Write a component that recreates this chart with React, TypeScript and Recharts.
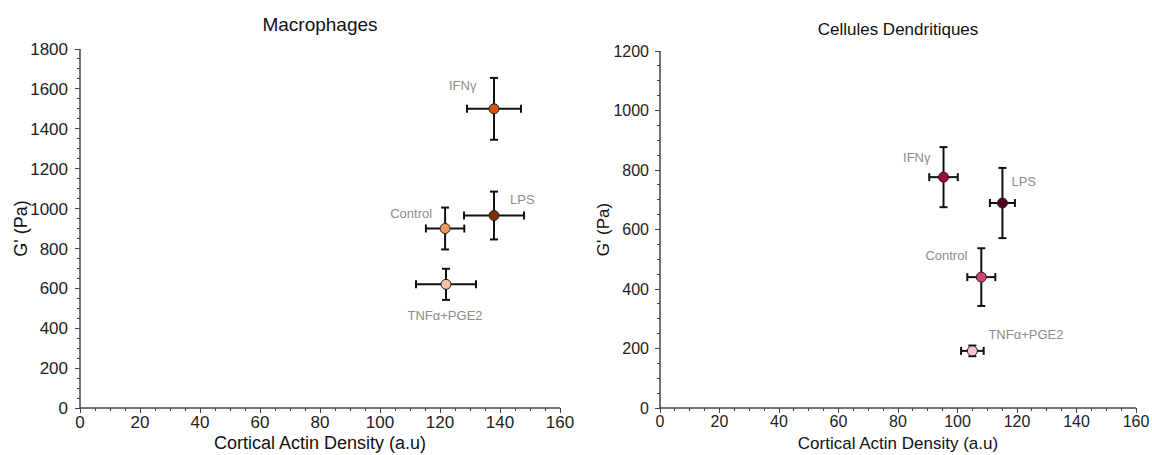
import { ScatterChart, Scatter, XAxis, YAxis } from 'recharts';

const groups = ['Control', 'IFNγ', 'LPS', 'TNFα+PGE2'];

// Macrophages
const macroActin = [121.7, 138, 138, 122];
const macroActinErr = [6.4, 9, 10, 10];
const macroG = [900, 1500, 965, 620];
const macroGErr = [105, 155, 120, 78];
const macroColors = ['#f6985a', '#d2530c', '#7b2f07', '#eec4a8'];

// Cellules dendritiques
const dcActin = [108, 95.3, 115.1, 105];
const dcActinErr = [4.7, 4.8, 4.2, 3.8];
const dcG = [440, 776, 689, 192];
const dcGErr = [97, 101, 118, 18];
const dcColors = ['#d34470', '#a0073f', '#4d0322', '#f9c4cc'];

// major tick every 20 (x) / 200 (y), minor ticks in between
const xMajorStep = 20;
const xMinorStep = 5;
const yMajorStep = 200;
const yMinorStep = 50;
const stepTicks = (max: number, step: number) =>
  Array.from({ length: Math.round(max / step) + 1 }, (_, i) => i * step);

// where each point's name sits relative to its marker
const macroLabelPos = [
  { dx: -13, dy: -11, anchor: 'end' },
  { dx: -45, dy: -19, anchor: 'start' },
  { dx: 16, dy: -12, anchor: 'start' },
  { dx: -1, dy: 36, anchor: 'middle' },
];
const dcLabelPos = [
  { dx: -14, dy: -17, anchor: 'end' },
  { dx: -13, dy: -15, anchor: 'end' },
  { dx: 9, dy: -17, anchor: 'start' },
  { dx: 16, dy: -12, anchor: 'start' },
];

const FONT = '"Liberation Sans", Arial, sans-serif';
const AXIS = '#444';
const CAP = 4;

function XTick(props: any) {
  const { x, y, payload, fontSize } = props;
  const major = payload.value % xMajorStep === 0;
  const len = major ? 5 : 3;
  return (
    <g>
      <line x1={x} x2={x} y1={y} y2={y + len} stroke={AXIS} strokeWidth={1} shapeRendering="crispEdges" />
      {major && (
        <text x={x} y={y + 7} dy="0.75em" textAnchor="middle" fill="#222" fontSize={fontSize} fontFamily={FONT}>
          {payload.value}
        </text>
      )}
    </g>
  );
}

function YTick(props: any) {
  const { x, y, payload, fontSize, margin } = props;
  const major = payload.value % yMajorStep === 0;
  const len = major ? 5 : 3;
  return (
    <g>
      <line x1={x - len} x2={x} y1={y} y2={y} stroke={AXIS} strokeWidth={1} shapeRendering="crispEdges" />
      {major && (
        <text x={x - 5 - margin} y={y} dy="0.36em" textAnchor="end" fill="#222" fontSize={fontSize} fontFamily={FONT}>
          {payload.value}
        </text>
      )}
    </g>
  );
}

// caps at the ends of error bars
const hCap = (s: any) => (
  <line x1={s.cx} x2={s.cx} y1={s.cy - CAP} y2={s.cy + CAP} stroke="#111" strokeWidth={2} />
);
const vCap = (s: any) => (
  <line x1={s.cx - CAP} x2={s.cx + CAP} y1={s.cy} y2={s.cy} stroke="#111" strokeWidth={2} />
);

type PanelProps = {
  title: string;
  titleSize: number;
  titleTop: number;
  actin: number[];
  actinErr: number[];
  g: number[];
  gErr: number[];
  colors: string[];
  labelPos: { dx: number; dy: number; anchor: string }[];
  yMax: number;
  yAxisWidth: number;
  top: number;
  tickSize: number;
  labelSize: number;
  yLabelOffset: number;
  tickMarginY: number;
};

function Panel(p: PanelProps) {
  const points = groups.map((name, i) => ({ name, x: p.actin[i], y: p.g[i] }));
  return (
    <div style={{ position: 'relative', width: 576, height: 455 }}>
      <div
        style={{
          position: 'absolute',
          top: p.titleTop,
          left: p.yAxisWidth,
          width: 560 - p.yAxisWidth,
          textAlign: 'center',
          fontFamily: FONT,
          fontSize: p.titleSize,
          lineHeight: 1,
          color: '#111',
        }}
      >
        {p.title}
      </div>
      <ScatterChart width={576} height={455} margin={{ top: p.top, right: 16, bottom: 0, left: 0 }}>
        <XAxis
          type="number"
          dataKey="x"
          domain={[0, 160]}
          allowDataOverflow
          ticks={stepTicks(160, xMinorStep)}
          interval={0}
          tickSize={0}
          tickMargin={0}
          tickLine={false}
          tick={<XTick fontSize={p.tickSize} />}
          axisLine={{ stroke: AXIS, strokeWidth: 1.5 }}
          height={47}
          label={{
            value: 'Cortical Actin Density (a.u)',
            position: 'insideBottom',
            offset: 6,
            style: { fill: '#111', fontSize: p.labelSize, fontFamily: FONT },
          }}
        />
        <YAxis
          type="number"
          dataKey="y"
          domain={[0, p.yMax]}
          allowDataOverflow
          ticks={stepTicks(p.yMax, yMinorStep)}
          interval={0}
          tickSize={0}
          tickMargin={0}
          tickLine={false}
          tick={<YTick fontSize={p.tickSize} margin={p.tickMarginY} />}
          axisLine={{ stroke: AXIS, strokeWidth: 1.5 }}
          width={p.yAxisWidth}
          label={{
            value: "G' (Pa)",
            angle: -90,
            position: 'insideLeft',
            offset: p.yLabelOffset,
            style: { fill: '#111', fontSize: p.labelSize, fontFamily: FONT, textAnchor: 'middle' },
          }}
        />
        {/* error bars: horizontal then vertical, each a two-point line with caps */}
        {groups.map((name, i) => (
          <Scatter
            key={'ex-' + name}
            data={[
              { x: p.actin[i] - p.actinErr[i], y: p.g[i] },
              { x: p.actin[i] + p.actinErr[i], y: p.g[i] },
            ]}
            line={{ stroke: '#111', strokeWidth: 2 }}
            shape={hCap}
            isAnimationActive={false}
          />
        ))}
        {groups.map((name, i) => (
          <Scatter
            key={'ey-' + name}
            data={[
              { x: p.actin[i], y: p.g[i] - p.gErr[i] },
              { x: p.actin[i], y: p.g[i] + p.gErr[i] },
            ]}
            line={{ stroke: '#111', strokeWidth: 2 }}
            shape={vCap}
            isAnimationActive={false}
          />
        ))}
        {/* markers on top, with their names */}
        {points.map((d, i) => {
          const pos = p.labelPos[i];
          return (
            <Scatter
              key={d.name}
              name={d.name}
              data={[d]}
              isAnimationActive={false}
              shape={(s: any) => (
                <g>
                  <circle cx={s.cx} cy={s.cy} r={5} fill={p.colors[i]} stroke="#222" strokeWidth={1} />
                  <text
                    x={s.cx + pos.dx}
                    y={s.cy + pos.dy}
                    textAnchor={pos.anchor as any}
                    fill="#8c8c8c"
                    fontSize={13}
                    fontFamily={FONT}
                  >
                    {d.name}
                  </text>
                </g>
              )}
            />
          );
        })}
      </ScatterChart>
    </div>
  );
}

export default function App() {
  return (
    <div style={{ position: 'absolute', left: 0, top: 0, width: 1152, height: 455, display: 'flex', background: '#fff' }}>
      <Panel
        title="Macrophages"
        titleSize={19}
        titleTop={15}
        actin={macroActin}
        actinErr={macroActinErr}
        g={macroG}
        gErr={macroGErr}
        colors={macroColors}
        labelPos={macroLabelPos}
        yMax={1800}
        yAxisWidth={80}
        top={49}
        tickSize={17}
        labelSize={18}
        yLabelOffset={21}
        tickMarginY={7}
      />
      <Panel
        title="Cellules Dendritiques"
        titleSize={17}
        titleTop={21}
        actin={dcActin}
        actinErr={dcActinErr}
        g={dcG}
        gErr={dcGErr}
        colors={dcColors}
        labelPos={dcLabelPos}
        yMax={1200}
        yAxisWidth={84}
        top={51}
        tickSize={16}
        labelSize={17}
        yLabelOffset={27}
        tickMarginY={6}
      />
    </div>
  );
}
